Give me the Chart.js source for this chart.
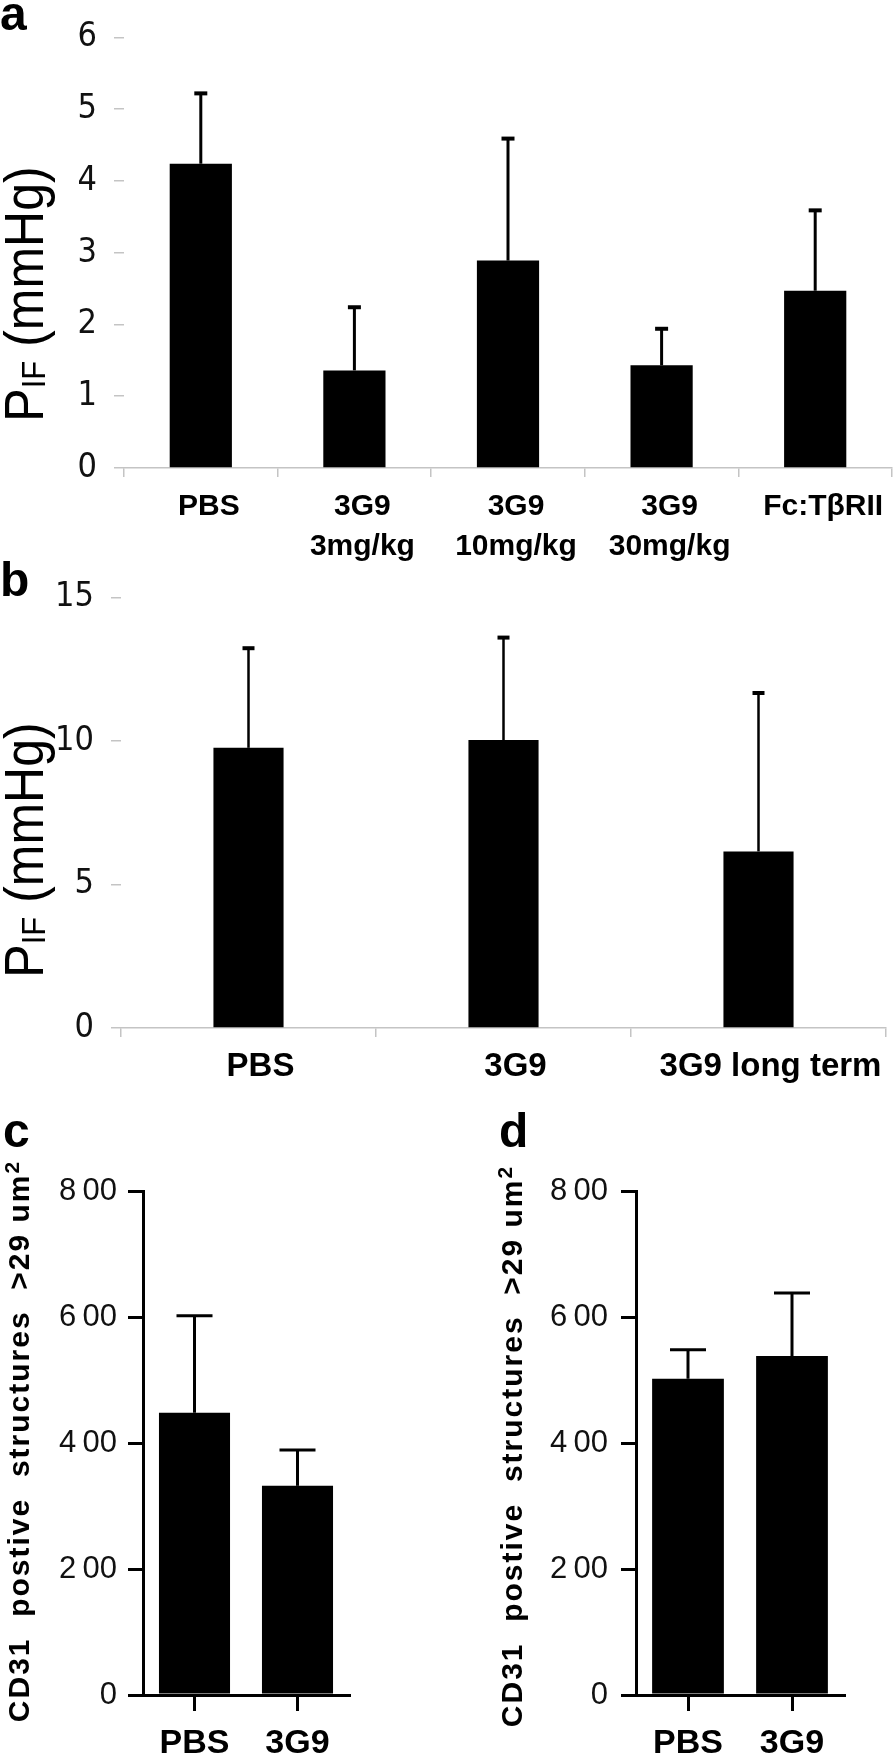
<!DOCTYPE html>
<html>
<head>
<meta charset="utf-8">
<title>PIF and CD31 bar charts</title>
<script src="https://cdn.jsdelivr.net/npm/chart.js@4.4.1/dist/chart.umd.min.js"></script>
<style>
  html, body { margin: 0; padding: 0; background: #fff; }
  body { position: relative; width: 894px; height: 1758px; overflow: hidden; font-family: "Liberation Sans", Arial, sans-serif; }
  canvas { position: absolute; }
  .letter { position: absolute; font-weight: bold; font-size: 48px; line-height: 1; color: #000; z-index: 2; }
</style>
</head>
<body>
<div class="letter" style="left:0;top:-10px">a</div>
<div class="letter" style="left:0;top:556px">b</div>
<div class="letter" style="left:3px;top:1107px">c</div>
<div class="letter" style="left:499px;top:1107px">d</div>

<canvas id="chartA" width="894" height="580" style="left:0;top:0"></canvas>
<canvas id="chartB" width="894" height="540" style="left:0;top:560px"></canvas>
<canvas id="chartC" width="447" height="658" style="left:0;top:1100px"></canvas>
<canvas id="chartD" width="447" height="658" style="left:447px;top:1100px"></canvas>

<script>
// panel a - PIF per treatment
const catsA = ['PBS', ['3G9', '3mg/kg'], ['3G9', '10mg/kg'], ['3G9', '30mg/kg'], 'Fc:TβRII'];
const valsA = [4.24, 1.36, 2.89, 1.43, 2.47];
const errsA = [0.98, 0.88, 1.70, 0.51, 1.12];

// panel b - PIF short vs long term
const catsB = ['PBS', '3G9', '3G9 long term'];
const valsB = [9.76, 10.03, 6.15];
const errsB = [3.47, 3.57, 5.52];

// panels c, d - CD31 positive structures
const catsC = ['PBS', '3G9'];
const valsC = [448, 332];
const errsC = [154, 57];

const catsD = ['PBS', '3G9'];
const valsD = [502, 538];
const errsD = [46, 100];

const tickLabelsCD = ['0', '2\u200900', '4\u200900', '6\u200900', '8\u200900'];

const LABEL_FONT = '"Liberation Sans", Arial, sans-serif';
const NARROW_FONT = '"Liberation Sans Narrow", "DejaVu Sans Condensed", "Liberation Sans", sans-serif';

// draws the error bar (upper half only) on top of each bar
const errorBars = {
  id: 'errorBars',
  afterDatasetsDraw(chart, args, opts) {
    const ctx = chart.ctx;
    const y = chart.scales.y;
    const ds = chart.data.datasets[0];
    const meta = chart.getDatasetMeta(0);
    ctx.save();
    ctx.strokeStyle = '#000';
    meta.data.forEach((bar, i) => {
      const top = y.getPixelForValue(ds.data[i] + ds.errors[i]);
      ctx.lineWidth = opts.lineWidth;
      ctx.beginPath();
      ctx.moveTo(bar.x, bar.y);
      ctx.lineTo(bar.x, top);
      ctx.stroke();
      ctx.lineWidth = opts.capThickness;
      ctx.beginPath();
      ctx.moveTo(bar.x - opts.capWidth / 2, top);
      ctx.lineTo(bar.x + opts.capWidth / 2, top);
      ctx.stroke();
    });
    ctx.restore();
  }
};

// rotated y title, made of parts so the subscript / superscript can be drawn.
// letters are placed one by one so extra spacing works everywhere
const yTitle = {
  id: 'yTitle',
  afterDraw(chart, args, opts) {
    const ctx = chart.ctx;
    const sp = opts.spacing || 0;
    ctx.save();
    ctx.translate(opts.x, opts.y);
    ctx.rotate(-Math.PI / 2);
    ctx.scale(1, opts.stretch || 1);
    ctx.fillStyle = '#000';
    ctx.textBaseline = 'alphabetic';
    const glyphs = [];
    let total = 0;
    opts.parts.forEach(p => {
      ctx.font = `${p.weight || 'normal'} ${p.size}px ${LABEL_FONT}`;
      for (const ch of p.text) {
        const w = ctx.measureText(ch).width + sp;
        glyphs.push({ ch, w, font: ctx.font, dy: p.dy || 0 });
        total += w;
      }
    });
    let x = -total / 2;
    glyphs.forEach(g => {
      ctx.font = g.font;
      ctx.fillText(g.ch, x, opts.base + g.dy);
      x += g.w;
    });
    ctx.restore();
  }
};

function makeChart(id, c) {
  return new Chart(document.getElementById(id), {
    type: 'bar',
    data: {
      labels: c.labels,
      datasets: [{
        data: c.values,
        errors: c.errors,
        backgroundColor: '#000',
        borderWidth: 0,
        barPercentage: c.barPct,
        categoryPercentage: 1
      }]
    },
    options: {
      responsive: false,
      animation: false,
      events: [],
      layout: { padding: c.padding },
      plugins: {
        legend: { display: false },
        tooltip: { enabled: false },
        errorBars: c.err,
        yTitle: c.title
      },
      scales: {
        x: {
          offset: true,
          afterFit: s => { s.height = c.xHeight; },
          grid: {
            display: true,
            offset: c.xGridOffset,
            drawOnChartArea: false,
            tickLength: c.xTickLen,
            color: c.axisColor,
            lineWidth: c.axisWidth
          },
          border: { display: true, color: c.axisColor, width: c.axisWidth },
          ticks: {
            color: '#000',
            padding: c.xPad,
            labelOffset: c.labelOffset,
            maxRotation: 0,
            autoSkip: false,
            font: { family: LABEL_FONT, size: c.xFont, weight: 'bold', lineHeight: c.xLine }
          }
        },
        y: {
          min: 0,
          max: c.yMax,
          afterFit: s => { s.width = c.yWidth; },
          grid: {
            display: true,
            drawOnChartArea: false,
            tickLength: c.yTickLen,
            color: c.yTickColor,
            lineWidth: c.yTickWidth
          },
          border: { display: c.yBorder, color: c.axisColor, width: c.axisWidth },
          ticks: {
            stepSize: c.yStep,
            color: '#111',
            padding: c.yPad,
            callback: c.yLabel || (v => v),
            font: { family: c.yFontFamily, size: c.yFont }
          }
        }
      }
    },
    plugins: [errorBars, yTitle]
  });
}

const pifTitle = (y) => ({
  x: 24, y: y, base: 17, stretch: 1.1,
  parts: [
    { text: 'P', size: 50 },
    { text: 'IF', size: 31, dy: 2 },
    { text: ' (mmHg)', size: 50 }
  ]
});

const cdTitle = (x, y) => ({
  x: x, y: y, base: 11, spacing: 2,
  parts: [
    { text: 'CD31  postive  structures  >29 um', size: 30, weight: 'bold' },
    { text: '2', size: 21, weight: 'bold', dy: -10 }
  ]
});

makeChart('chartA', {
  labels: catsA, values: valsA, errors: errsA, barPct: 0.405,
  padding: { top: 31, right: 2, left: 0, bottom: 0 },
  xHeight: 112, yWidth: 124, yMax: 6, yStep: 1,
  xGridOffset: true, xTickLen: 9, xPad: 10, labelOffset: 8, xFont: 30, xLine: 1.33,
  axisColor: '#c4c4c4', axisWidth: 1.5, yBorder: false,
  yTickLen: 10, yTickColor: '#c4c4c4', yTickWidth: 1.5, yPad: 17,
  yFontFamily: NARROW_FONT, yFont: 34,
  err: { lineWidth: 3, capWidth: 13, capThickness: 4 },
  title: pifTitle(294)
});

makeChart('chartB', {
  labels: catsB, values: valsB, errors: errsB, barPct: 0.275,
  padding: { top: 36, right: 8, left: 0, bottom: 0 },
  xHeight: 72, yWidth: 121, yMax: 15, yStep: 5,
  xGridOffset: true, xTickLen: 9, xPad: 10, labelOffset: 12, xFont: 33, xLine: 1.2,
  axisColor: '#c4c4c4', axisWidth: 1.5, yBorder: false,
  yTickLen: 10, yTickColor: '#c4c4c4', yTickWidth: 1.5, yPad: 17,
  yFontFamily: NARROW_FONT, yFont: 34,
  err: { lineWidth: 2.5, capWidth: 12, capThickness: 4 },
  title: pifTitle(290)
});

makeChart('chartC', {
  labels: catsC, values: valsC, errors: errsC, barPct: 0.69,
  padding: { top: 91, right: 98, left: 0, bottom: 0 },
  xHeight: 63, yWidth: 143, yMax: 800, yStep: 200,
  xGridOffset: false, xTickLen: 16, xPad: 12, labelOffset: 0, xFont: 34, xLine: 1.2,
  axisColor: '#000', axisWidth: 3, yBorder: true,
  yTickLen: 15, yTickColor: '#000', yTickWidth: 3, yPad: 11,
  yFontFamily: LABEL_FONT, yFont: 31,
  yLabel: (v, i) => tickLabelsCD[i],
  err: { lineWidth: 3, capWidth: 36, capThickness: 3 },
  title: cdTitle(18, 341)
});

makeChart('chartD', {
  labels: catsD, values: valsD, errors: errsD, barPct: 0.69,
  padding: { top: 91, right: 50, left: 0, bottom: 0 },
  xHeight: 63, yWidth: 189, yMax: 800, yStep: 200,
  xGridOffset: false, xTickLen: 16, xPad: 12, labelOffset: 0, xFont: 34, xLine: 1.2,
  axisColor: '#000', axisWidth: 3, yBorder: true,
  yTickLen: 15, yTickColor: '#000', yTickWidth: 3, yPad: 13,
  yFontFamily: LABEL_FONT, yFont: 31,
  yLabel: (v, i) => tickLabelsCD[i],
  err: { lineWidth: 3, capWidth: 36, capThickness: 3 },
  title: cdTitle(64, 346)
});
</script>
</body>
</html>
